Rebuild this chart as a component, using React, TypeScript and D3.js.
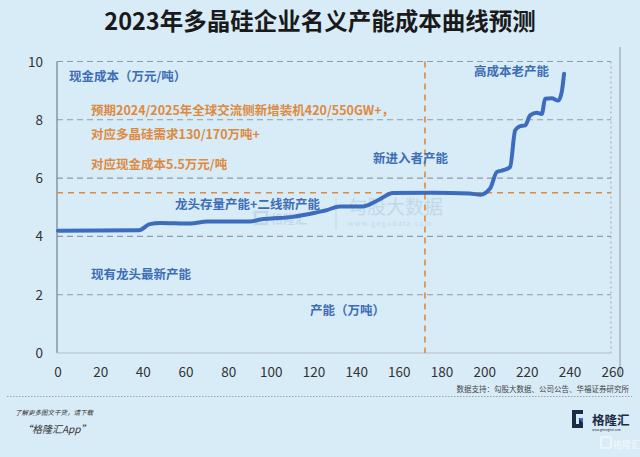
import React from "react";
import * as d3 from "d3";

// capacity (万吨) vs cash cost (万元/吨)
const capacity = [
  0, 38, 43, 48, 62, 70, 90, 95, 100, 110, 120, 126, 132, 143, 150, 157, 175,
  193, 198, 202.5, 205.7, 208.8, 211.9, 214.3, 216.6, 219, 221.3, 224.4, 226.8,
  228.3, 231.4, 234.5, 236.1, 237.2,
];
const cost = [
  4.19, 4.21, 4.42, 4.46, 4.44, 4.51, 4.51, 4.58, 4.61, 4.67, 4.8, 4.9, 5.03,
  5.03, 5.24, 5.49, 5.5, 5.47, 5.43, 5.64, 6.21, 6.27, 6.38, 7.64, 7.78, 7.81,
  8.15, 8.24, 8.2, 8.72, 8.74, 8.66, 8.95, 9.58,
];
const xTicks = [0, 20, 40, 60, 80, 100, 120, 140, 160, 180, 200, 220, 240, 260];
const yTicks = [0, 2, 4, 6, 8, 10];
const demandCapacity = 172;
const demandCost = 5.5;

const orangeNotes = [
  "预期2024/2025年全球交流侧新增装机420/550GW+，",
  "对应多晶硅需求130/170万吨+",
  "对应现金成本5.5万元/吨",
];

const W = 640;
const H = 457;
const FONT = "'Noto Sans CJK SC', 'Noto Sans', sans-serif";
const BLUE = "#3c6cbd";
const LABEL_BLUE = "#3d6db5";
const ORANGE = "#de8a3e";

export default function App() {
  const x = d3.scaleLinear().domain([0, 260]).range([58, 612.7]);
  const y = d3.scaleLinear().domain([0, 10]).range([353, 61.5]);

  const pts: [number, number][] = capacity.map((c, i) => [c, cost[i]]);
  const line = d3
    .line<[number, number]>()
    .x((d) => x(d[0]))
    .y((d) => y(d[1]))
    .curve(d3.curveMonotoneX);

  const left = 57;
  const right = 611;

  return (
    <div style={{ position: "fixed", left: 0, top: 0 }}>
      <svg width={W} height={H} style={{ display: "block", fontFamily: FONT }}>
        <rect width={W} height={H} fill="#d8ecf8" />

        {/* title */}
        <text
          x={320}
          y={30}
          textAnchor="middle"
          fontSize={23.5}
          fontWeight={700}
          fill="#1a1a1a"
        >
          2023年多晶硅企业名义产能成本曲线预测
        </text>

        {/* panel edge */}
        <line x1={620} x2={620} y1={47} y2={377} stroke="#9aa6b0" strokeWidth={1.2} />

        {/* grid */}
        {yTicks.slice(1).map((t) => (
          <line
            key={t}
            x1={left}
            x2={right}
            y1={y(t)}
            y2={y(t)}
            stroke="#8f9ba6"
            strokeWidth={1.1}
            strokeDasharray="6 4"
          />
        ))}
        <line
          x1={right}
          x2={right}
          y1={y(10)}
          y2={y(0)}
          stroke="#9aa6b0"
          strokeWidth={1}
          strokeDasharray="2 3"
        />

        {/* axes */}
        <line x1={left} x2={left} y1={y(10)} y2={y(0)} stroke="#7d8893" strokeWidth={1.3} />
        <line x1={left} x2={right} y1={y(0)} y2={y(0)} stroke="#b2bcc6" strokeWidth={1.2} />

        {yTicks.map((t) => (
          <text
            key={t}
            x={43}
            y={y(t) + 5}
            textAnchor="end"
            fontSize={13.5}
            fill="#333"
          >
            {t}
          </text>
        ))}
        {xTicks.map((t) => (
          <text
            key={t}
            x={x(t)}
            y={377}
            textAnchor="middle"
            fontSize={13.5}
            fill="#333"
          >
            {t}
          </text>
        ))}

        {/* watermarks */}
        <g opacity={0.2} fill="#6f8ea8">
          <text x={348} y={214} fontSize={19}>
            勾股大数据
          </text>
          <text x={348} y={226} fontSize={7} letterSpacing={1.2}>
            www.gogudata.com
          </text>
          <line x1={336} x2={336} y1={198} y2={230} stroke="#6f8ea8" />
          <rect x={255} y={212} width={12} height={12} fill="none" stroke="#6f8ea8" strokeWidth={2.5} />
          <text x={271} y={224} fontSize={12} fontWeight={700}>
            格隆汇
          </text>
        </g>

        {/* demand markers */}
        <line
          x1={left}
          x2={right}
          y1={y(demandCost)}
          y2={y(demandCost)}
          stroke={ORANGE}
          strokeWidth={1.6}
          strokeDasharray="6 5"
        />
        <line
          x1={x(demandCapacity)}
          x2={x(demandCapacity)}
          y1={y(10)}
          y2={y(0)}
          stroke={ORANGE}
          strokeWidth={1.6}
          strokeDasharray="6 5"
        />

        {/* cost curve */}
        <path
          d={line(pts) ?? ""}
          fill="none"
          stroke={BLUE}
          strokeWidth={4}
          strokeLinecap="round"
          strokeLinejoin="round"
        />

        {/* labels */}
        <g fontSize={12.5} fontWeight={700} fill={LABEL_BLUE}>
          <text x={69} y={81}>现金成本（万元/吨）</text>
          <text x={474} y={76}>高成本老产能</text>
          <text x={373} y={163}>新进入者产能</text>
          <text x={175} y={209}>龙头存量产能+二线新产能</text>
          <text x={91} y={279}>现有龙头最新产能</text>
          <text x={310} y={315}>产能（万吨）</text>
        </g>
        <g fontSize={12.5} fontWeight={700} fill={ORANGE}>
          {orangeNotes.map((s, i) => (
            <text key={i} x={91} y={[115, 139, 169][i]}>
              {s}
            </text>
          ))}
        </g>

        {/* footer */}
        <text x={629} y={392} textAnchor="end" fontSize={7.5} fill="#444">
          数据支持：勾股大数据、公司公告、华福证券研究所
        </text>
        <line
          x1={7}
          x2={632}
          y1={396.5}
          y2={396.5}
          stroke="#8a8f94"
          strokeWidth={0.8}
          strokeDasharray="1.5 1.5"
        />
        <text x={15} y={415} fontSize={6.5} fontStyle="italic" fill="#333">
          了解更多图文干货，请下载
        </text>
        <text x={22} y={433} fontSize={10} fontStyle="italic" fill="#333">
          “格隆汇App”
        </text>

        {/* logo */}
        <g>
          <path
            d="M572 410 h11 v4 h-7 v10 h3 v-5 h4 v9 h-11 z"
            fill="#1d2a44"
          />
          <path d="M578 418 l5 0 l0 5 z" fill="#3c6cbd" />
          <text x={592} y={425} fontSize={12.5} fontWeight={700} fill="#1d2a44">
            格隆汇
          </text>
          <text x={592} y={431} fontSize={3} fill="#1d2a44">
            www.gelonghui.com
          </text>
        </g>
        <g opacity={0.75}>
          <rect x={601} y={437} width={10} height={11} fill="none" stroke="#f4f8fb" strokeWidth={2} rx={1.5} />
          <text x={613} y={448} fontSize={9} fontWeight={700} fill="#f4f8fb">
            格隆汇
          </text>
        </g>
      </svg>
    </div>
  );
}
